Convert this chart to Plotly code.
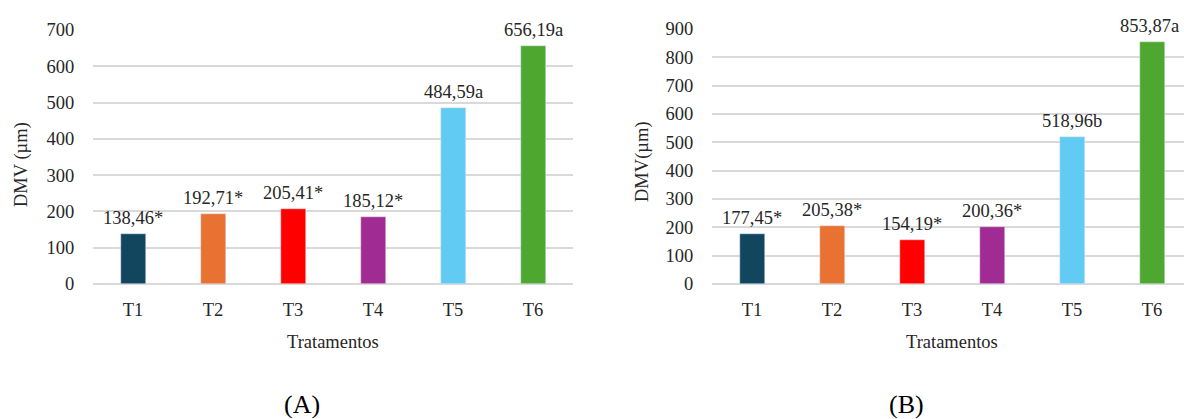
import plotly.graph_objects as go

categories = ["T1", "T2", "T3", "T4", "T5", "T6"]
values_a = [138.46, 192.71, 205.41, 185.12, 484.59, 656.19]
letters_a = ["*", "*", "*", "*", "a", "a"]
values_b = [177.45, 205.38, 154.19, 200.36, 518.96, 853.87]
letters_b = ["*", "*", "*", "*", "b", "a"]
yticks_a = [0, 100, 200, 300, 400, 500, 600, 700]
yticks_b = [0, 100, 200, 300, 400, 500, 600, 700, 800, 900]
colors = ["#12465F", "#E97132", "#FF0000", "#A02B93", "#61CBF3", "#4EA72E"]

W, H = 1184, 419
FONT = "Liberation Serif, Times New Roman, serif"
TXT = "#262626"
GRID = "#D9D9D9"
FS = 18.5


def fmt(v, s):
    return f"{v:.2f}".replace(".", ",") + s


fig = go.Figure()
fig.add_trace(go.Bar(x=categories, y=values_a, marker_color=colors, width=0.3125,
                     xaxis="x", yaxis="y", showlegend=False, cliponaxis=False))
fig.add_trace(go.Bar(x=categories, y=values_b, marker_color=colors, width=0.3125,
                     xaxis="x2", yaxis="y2", showlegend=False, cliponaxis=False))

annotations = []
for c, v, s in zip(categories, values_a, letters_a):
    annotations.append(dict(x=c, y=v, xref="x", yref="y", text=fmt(v, s), showarrow=False,
                            yanchor="bottom", yshift=4, font=dict(size=FS, color=TXT, family=FONT)))
for i, (c, v, s) in enumerate(zip(categories, values_b, letters_b)):
    annotations.append(dict(x=c, y=v, xref="x2", yref="y2", text=fmt(v, s), showarrow=False,
                            yanchor="bottom", yshift=4, xshift=-3 if i == len(categories) - 1 else 0,
                            font=dict(size=FS, color=TXT, family=FONT)))

# axis titles and panel labels
annotations += [
    dict(x=333 / W, y=1 - 342 / H, xref="paper", yref="paper", text="Tratamentos", showarrow=False,
         font=dict(size=FS, color=TXT, family=FONT), xanchor="center", yanchor="middle"),
    dict(x=952 / W, y=1 - 342 / H, xref="paper", yref="paper", text="Tratamentos", showarrow=False,
         font=dict(size=FS, color=TXT, family=FONT), xanchor="center", yanchor="middle"),
    dict(x=21 / W, y=1 - 165 / H, xref="paper", yref="paper", text="DMV (µm)", showarrow=False,
         textangle=-90, font=dict(size=FS, color=TXT, family=FONT), xanchor="center", yanchor="middle"),
    dict(x=642 / W, y=1 - 162 / H, xref="paper", yref="paper", text="DMV(µm)", showarrow=False,
         textangle=-90, font=dict(size=FS, color=TXT, family=FONT), xanchor="center", yanchor="middle"),
    dict(x=302 / W, y=1 - 404 / H, xref="paper", yref="paper", text="(A)", showarrow=False,
         font=dict(size=26, color="#000000", family=FONT), xanchor="center", yanchor="middle"),
    dict(x=906 / W, y=1 - 404 / H, xref="paper", yref="paper", text="(B)", showarrow=False,
         font=dict(size=26, color="#000000", family=FONT), xanchor="center", yanchor="middle"),
]

ydom = [1 - 284 / H, 1 - 30 / H]
ydom_b = [1 - 284 / H, 1 - 29 / H]

xcommon = dict(showgrid=False, showline=False, zeroline=False, ticks="outside", ticklen=9,
               tickcolor="rgba(0,0,0,0)", tickfont=dict(size=FS, color=TXT, family=FONT),
               fixedrange=True, automargin=False)
ycommon = dict(showgrid=True, gridcolor=GRID, gridwidth=1.5, zeroline=True, zerolinecolor=GRID,
               zerolinewidth=1.5, showline=False, ticks="outside", ticklen=14,
               tickcolor="rgba(0,0,0,0)", tickfont=dict(size=FS, color=TXT, family=FONT),
               fixedrange=True, automargin=False)

fig.update_layout(
    width=W, height=H,
    margin=dict(l=0, r=0, t=0, b=0, autoexpand=False),
    paper_bgcolor="white", plot_bgcolor="white",
    font=dict(family=FONT, color=TXT),
    bargap=0,
    xaxis=dict(domain=[93 / W, 573 / W], anchor="y", range=[-0.5, 5.5], **xcommon),
    yaxis=dict(domain=ydom, anchor="x", range=[0, 700], tickvals=yticks_a, **ycommon),
    xaxis2=dict(domain=[712 / W, 1.0], anchor="y2", range=[-0.5, 5.4], **xcommon),
    yaxis2=dict(domain=ydom_b, anchor="x2", range=[0, 900], tickvals=yticks_b, **ycommon),
    annotations=annotations,
)

fig.write_html(
    "out.html",
    config={"displayModeBar": False},
    post_script="document.body.style.margin='0px';document.body.style.overflow='hidden';",
)
